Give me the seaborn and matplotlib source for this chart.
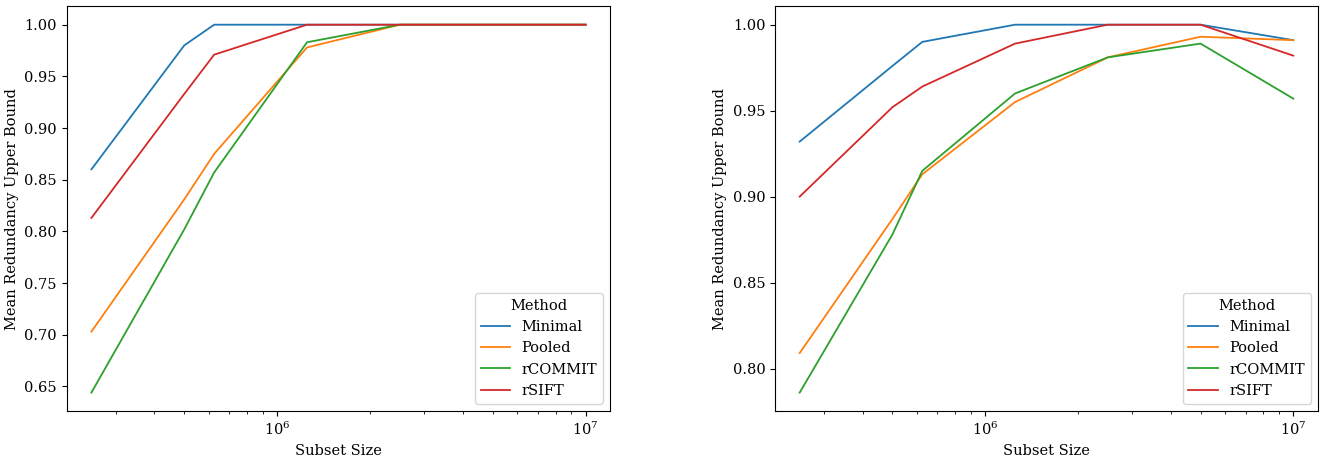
import pandas as pd
import matplotlib
matplotlib.use("Agg")
import matplotlib.pyplot as plt
import seaborn as sns

plt.rcParams['font.family'] = ['DejaVu Serif']
plt.rcParams['font.size'] = 10.5

subset_sizes = [250000, 500000, 625000, 1250000, 2500000, 5000000, 10000000]
methods = ['Minimal', 'Pooled', 'rCOMMIT', 'rSIFT']

# left panel
left_minimal = [0.860, 0.980, 1.000, 1.000, 1.000, 1.000, 1.000]
left_pooled = [0.703, 0.831, 0.875, 0.978, 1.000, 1.000, 1.000]
left_rcommit = [0.644, 0.802, 0.857, 0.983, 1.000, 1.000, 1.000]
left_rsift = [0.813, 0.933, 0.971, 1.000, 1.000, 1.000, 1.000]

# right panel
right_minimal = [0.932, 0.976, 0.990, 1.000, 1.000, 1.000, 0.991]
right_pooled = [0.809, 0.887, 0.913, 0.955, 0.981, 0.993, 0.991]
right_rcommit = [0.786, 0.878, 0.915, 0.960, 0.981, 0.989, 0.957]
right_rsift = [0.900, 0.952, 0.964, 0.989, 1.000, 1.000, 0.982]


def to_frame(series):
    rows = []
    for method, values in zip(methods, series):
        for size, v in zip(subset_sizes, values):
            rows.append({'Subset Size': size, 'Method': method,
                         'Mean Redundancy Upper Bound': v})
    return pd.DataFrame(rows)


left_df = to_frame([left_minimal, left_pooled, left_rcommit, left_rsift])
right_df = to_frame([right_minimal, right_pooled, right_rcommit, right_rsift])

fig = plt.figure(figsize=(13.25, 4.57), dpi=100)
ax1 = fig.add_axes([66.7 / 1325, 1 - 411 / 457, 543.6 / 1325, 404.7 / 457])
ax2 = fig.add_axes([775 / 1325, 1 - 411 / 457, 543 / 1325, 404.7 / 457])

for ax, df in [(ax1, left_df), (ax2, right_df)]:
    sns.lineplot(data=df, x='Subset Size', y='Mean Redundancy Upper Bound',
                 hue='Method', ax=ax, linewidth=1.3)
    ax.set_xscale('log')
    ax.legend(title='Method', loc='lower right')

plt.savefig('out.png', dpi=100)
